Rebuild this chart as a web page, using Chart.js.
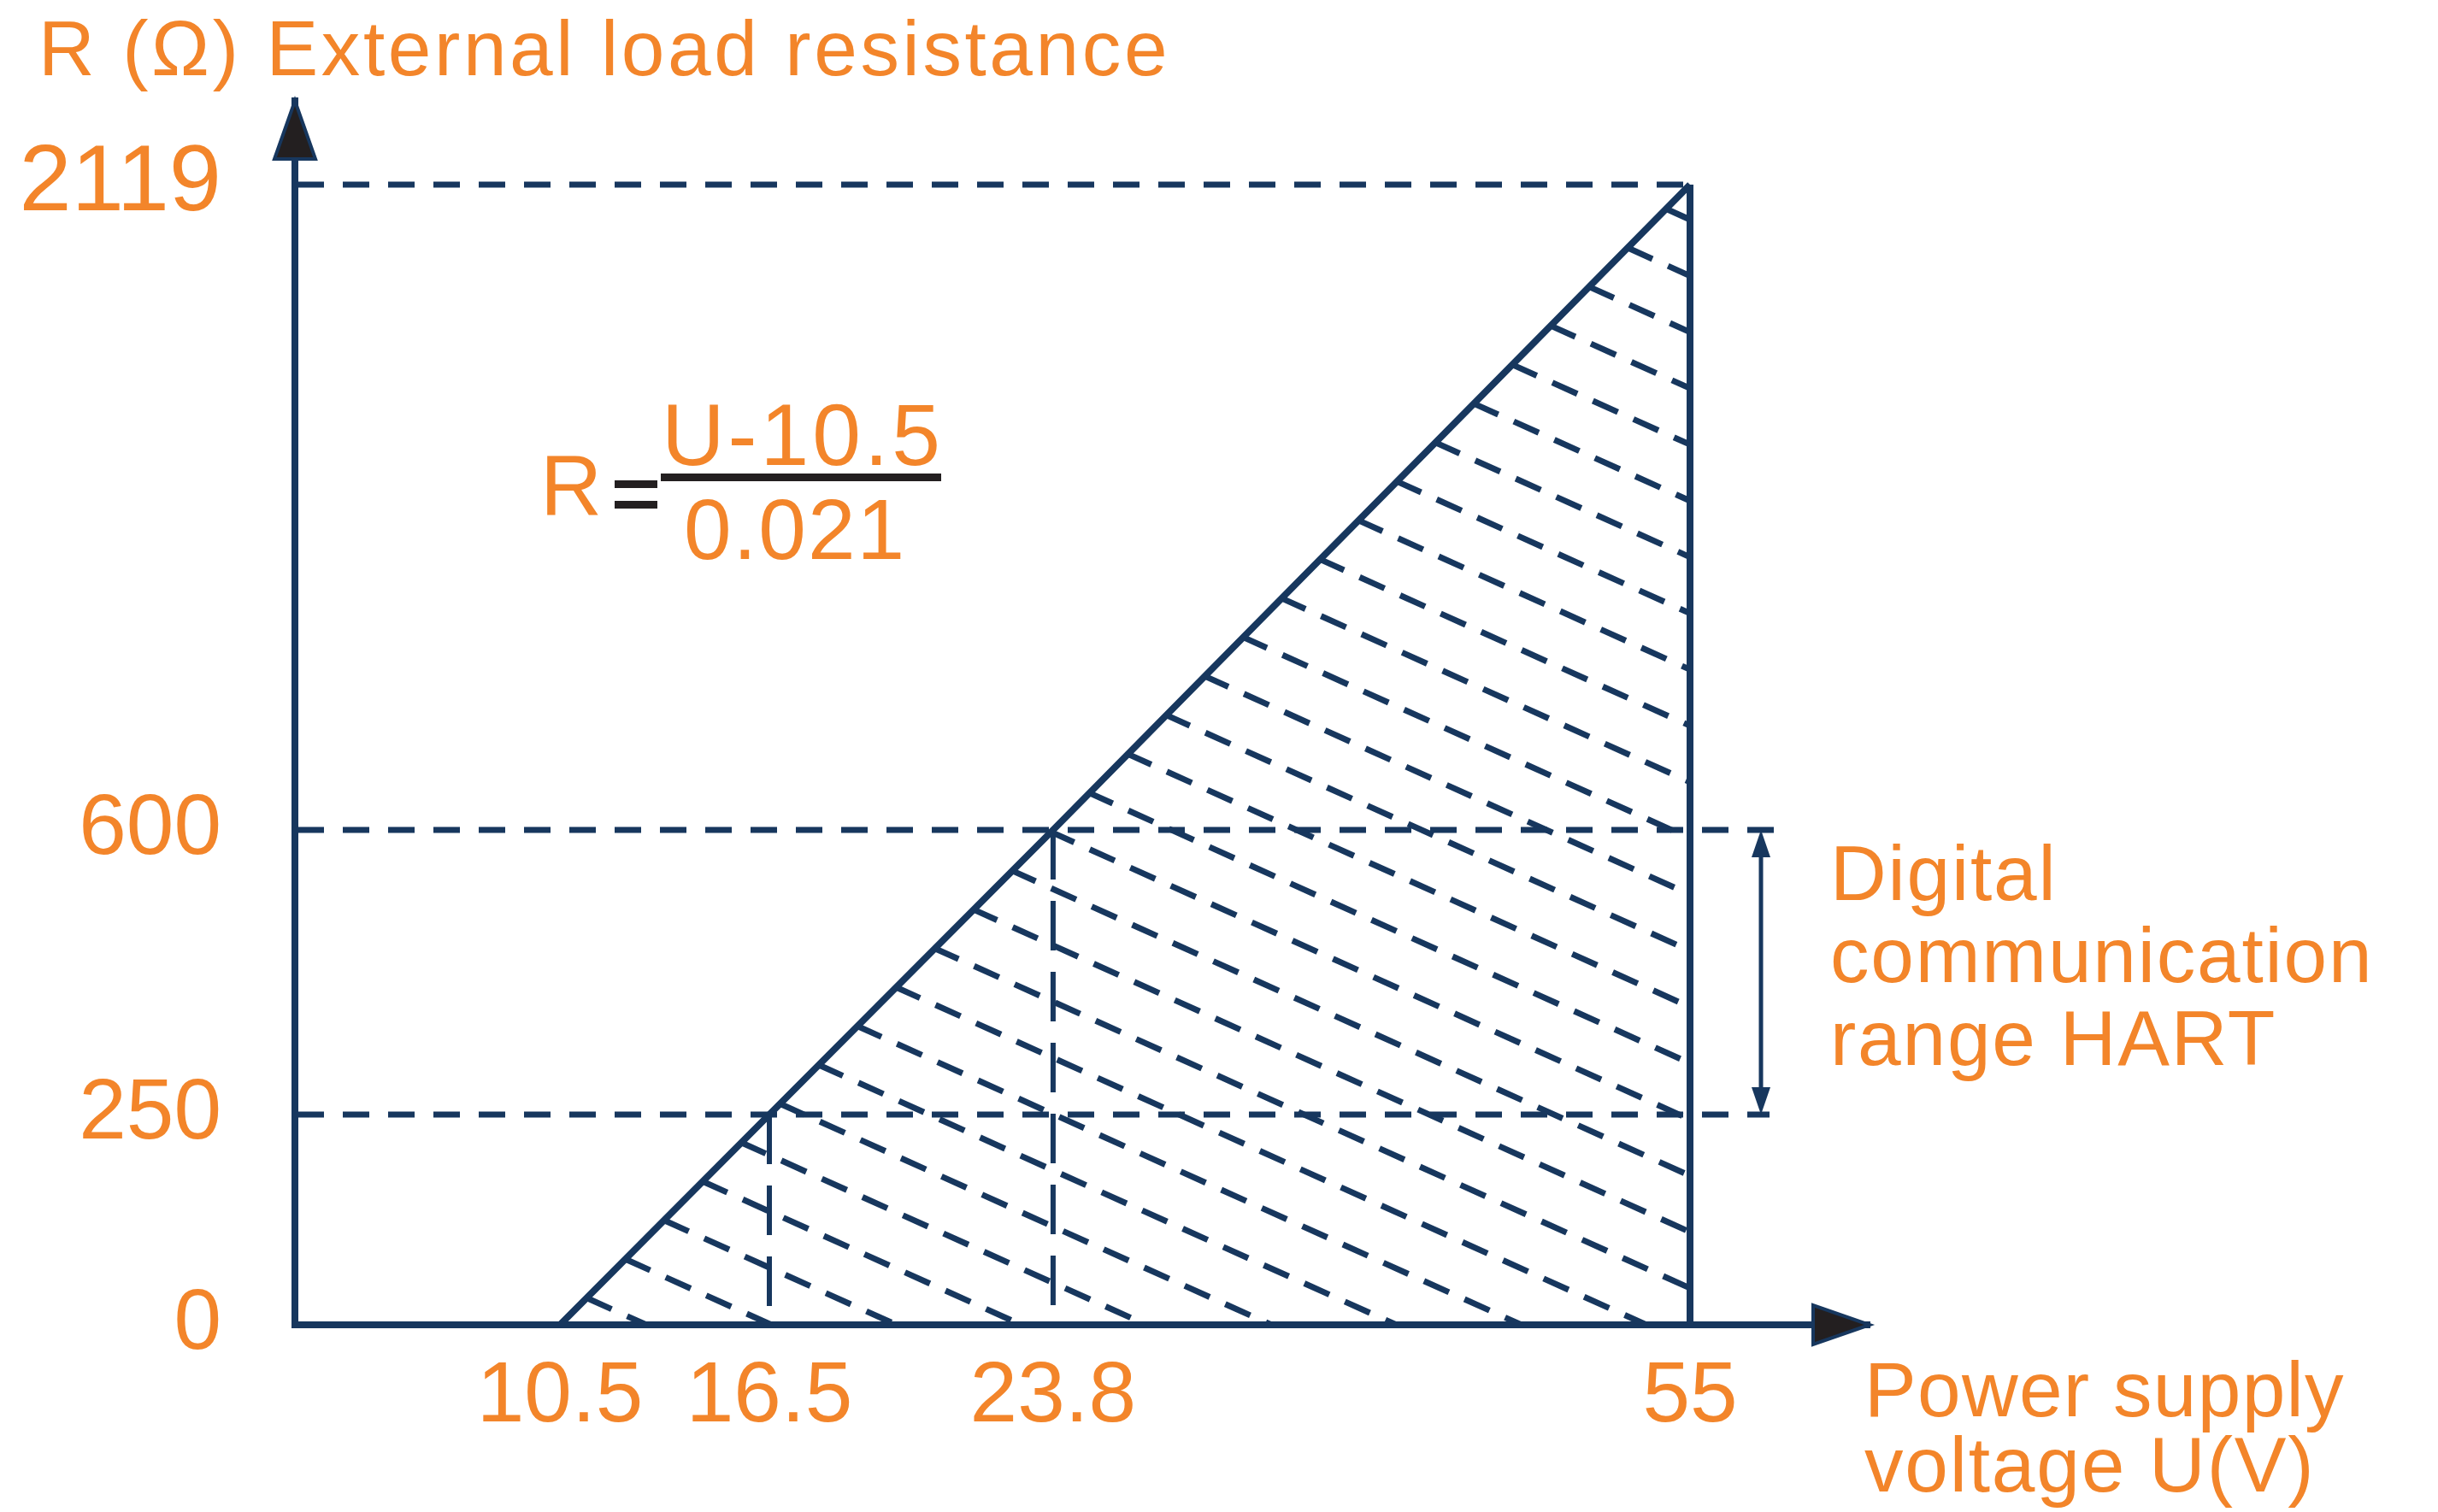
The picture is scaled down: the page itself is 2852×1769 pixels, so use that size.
<!DOCTYPE html>
<html>
<head>
<meta charset="utf-8">
<title>External load resistance vs power supply voltage</title>
<script src="https://cdn.jsdelivr.net/npm/chart.js@4.4.1/dist/chart.umd.min.js"></script>
<style>
  html, body { margin: 0; padding: 0; background: #fff; }
  #chart { display: block; }
</style>
</head>
<body>
<canvas id="chart" width="2852" height="1769"></canvas>
<script>
// values
const voltageTicks = [10.5, 16.5, 23.8, 55];
const voltageLabels = ["10.5", "16.5", "23.8", "55"];
const resistanceTicks = [0, 250, 600, 2119];
const resistanceLabels = ["0", "250", "600", "2119"];
const loadLineU = [10.5, 16.5, 23.8, 55];
const loadLineR = [0, 250, 600, 2119];
const hartRange = [250, 600];
const hartVoltages = [16.5, 23.8];
const maxVoltage = 55;
const maxResistance = 2119;

const NAVY = "#17375e";
const ORANGE = "#f3852a";
const INK = "#231f20";
const FONT = '"Liberation Sans", Arial, sans-serif';

// the diagram is not drawn to scale, so each axis is stretched piece by piece
// between its ticks (fraction of the axis length where each tick sits)
const axisStops = {
  x: { values: voltageTicks, at: [0.1683, 0.3013, 0.4815, 0.886] },
  y: { values: resistanceTicks, at: [0, 0.1718, 0.4043, 0.9316] }
};

function toDecimal(stops, v) {
  const vs = stops.values, at = stops.at;
  let i = 0;
  while (i < vs.length - 2 && v > vs[i + 1]) i++;
  return at[i] + (v - vs[i]) * (at[i + 1] - at[i]) / (vs[i + 1] - vs[i]);
}

function fromDecimal(stops, d) {
  const vs = stops.values, at = stops.at;
  let i = 0;
  while (i < at.length - 2 && d > at[i + 1]) i++;
  return vs[i] + (d - at[i]) * (vs[i + 1] - vs[i]) / (at[i + 1] - at[i]);
}

class PiecewiseScale extends Chart.LinearScale {
  getPixelForValue(value) {
    if (value === null || value === undefined || isNaN(value)) return NaN;
    return this.getPixelForDecimal(toDecimal(axisStops[this.axis], value));
  }
  getValueForPixel(pixel) {
    return fromDecimal(axisStops[this.axis], this.getDecimalForPixel(pixel));
  }
}
PiecewiseScale.id = "piecewise";
PiecewiseScale.defaults = {};
Chart.register(PiecewiseScale);

function arrowHead(ctx, tipX, tipY, dx, dy, len, half, fill, stroke) {
  const bx = tipX - dx * len, by = tipY - dy * len;
  ctx.beginPath();
  ctx.moveTo(tipX, tipY);
  ctx.lineTo(bx - dy * half, by + dx * half);
  ctx.lineTo(bx + dy * half, by - dx * half);
  ctx.closePath();
  ctx.fillStyle = fill;
  ctx.fill();
  if (stroke) {
    ctx.strokeStyle = stroke;
    ctx.lineWidth = 4;
    ctx.lineJoin = "miter";
    ctx.stroke();
  }
}

function text(ctx, str, x, y, size, opts = {}) {
  ctx.font = `${size}px ${FONT}`;
  ctx.fillStyle = opts.color || ORANGE;
  ctx.textAlign = opts.align || "left";
  ctx.textBaseline = "alphabetic";
  ctx.letterSpacing = (opts.spacing || 0) + "px";
  ctx.fillText(str, x, y);
  ctx.letterSpacing = "0px";
}

// dashed hatching of the allowed working area
const hatchPlugin = {
  id: "hatch",
  beforeDatasetsDraw(chart) {
    const { ctx, scales: { x, y } } = chart;
    const pts = loadLineU.map((u, i) => [x.getPixelForValue(u), y.getPixelForValue(loadLineR[i])]);
    const xr = x.getPixelForValue(maxVoltage);
    const yb = y.getPixelForValue(0);
    ctx.save();
    ctx.beginPath();
    pts.forEach(([px, py], i) => (i ? ctx.lineTo(px, py) : ctx.moveTo(px, py)));
    ctx.lineTo(xr, yb);
    ctx.closePath();
    ctx.clip();

    ctx.strokeStyle = NAVY;
    ctx.lineWidth = 7;
    ctx.setLineDash([32, 20]);
    const [x0, y0] = pts[0];
    const [x1, y1] = pts[pts.length - 1];
    const k = 0.45, step = 65.8;
    const cTop = y1 - k * x1, cBottom = y0 - k * x0;
    for (let c = cTop + 41; c < cBottom; c += step) {
      const t = (c - cBottom) / ((y1 - y0) - k * (x1 - x0));
      const sx = x0 + t * (x1 - x0), sy = y0 + t * (y1 - y0);
      let ex = xr, ey = k * xr + c;
      if (ey > yb) { ey = yb; ex = (yb - c) / k; }
      ctx.beginPath();
      ctx.moveTo(sx, sy);
      ctx.lineTo(ex, ey);
      ctx.stroke();
    }
    ctx.restore();
  }
};

// horizontal dashed guides at the marked resistances
const guidePlugin = {
  id: "guides",
  beforeDatasetsDraw(chart) {
    const { ctx, chartArea, scales: { x, y } } = chart;
    const xr = x.getPixelForValue(maxVoltage);
    ctx.save();
    ctx.strokeStyle = NAVY;
    ctx.lineWidth = 7;
    ctx.setLineDash([31, 22]);
    [[maxResistance, xr], [hartRange[1], xr + 111], [hartRange[0], xr + 93]].forEach(([r, end]) => {
      const py = y.getPixelForValue(r);
      ctx.beginPath();
      ctx.moveTo(chartArea.left + 3, py);
      ctx.lineTo(end, py);
      ctx.stroke();
    });
    ctx.restore();
  }
};

const notesPlugin = {
  id: "notes",
  afterDraw(chart) {
    const { ctx, chartArea, scales: { x, y } } = chart;
    const yb = y.getPixelForValue(0);
    ctx.save();

    // axis arrows
    arrowHead(ctx, chartArea.left, chartArea.top, 0, -1, 68, 24, INK, NAVY);
    arrowHead(ctx, chartArea.right, yb, 1, 0, 66, 23, INK, NAVY);

    // HART range double arrow
    const ax = x.getPixelForValue(maxVoltage) + 83;
    const yTop = y.getPixelForValue(hartRange[1]);
    const yBot = y.getPixelForValue(hartRange[0]);
    ctx.strokeStyle = NAVY;
    ctx.lineWidth = 5;
    ctx.beginPath();
    ctx.moveTo(ax, yTop + 20);
    ctx.lineTo(ax, yBot - 20);
    ctx.stroke();
    arrowHead(ctx, ax, yTop, 0, -1, 32, 11, NAVY);
    arrowHead(ctx, ax, yBot, 0, 1, 32, 11, NAVY);

    // axis titles
    text(ctx, "R (Ω) External load resistance", 45, 88, 91, { spacing: 3.6 });
    text(ctx, "Power supply", 2181, 1657, 91, { spacing: 1.3 });
    text(ctx, "voltage U(V)", 2181, 1745, 91, { spacing: 1.8 });

    // HART note
    text(ctx, "Digital", 2141, 1053, 91, { spacing: 1.8 });
    text(ctx, "communication", 2141, 1149, 91, { spacing: 1.8 });
    text(ctx, "range HART", 2141, 1246, 91, { spacing: 1.8 });

    // formula
    text(ctx, "R", 632, 603, 100);
    ctx.fillStyle = INK;
    ctx.fillRect(719, 562, 50, 9);
    ctx.fillRect(719, 586, 50, 9);
    ctx.fillRect(773, 554, 328, 9);
    text(ctx, "U-10.5", 939, 544, 102, { align: "center", spacing: 4 });
    text(ctx, "0.021", 930, 654, 100, { align: "center", spacing: 2 });

    ctx.restore();
  }
};

new Chart(document.getElementById("chart").getContext("2d"), {
  type: "scatter",
  data: {
    datasets: [
      {
        label: "Load line",
        data: loadLineU.map((u, i) => ({ x: u, y: loadLineR[i] })),
        borderColor: NAVY,
        borderWidth: 8,
        showLine: true,
        pointRadius: 0
      },
      {
        label: "Max voltage",
        data: [{ x: maxVoltage, y: 0 }, { x: maxVoltage, y: maxResistance }],
        borderColor: NAVY,
        borderWidth: 8,
        showLine: true,
        pointRadius: 0
      },
      ...hartVoltages.map((u, i) => ({
        label: "HART " + u,
        data: [{ x: u, y: hartRange[i] }, { x: u, y: 0 }],
        borderColor: NAVY,
        borderWidth: 6,
        borderDash: [58, 25],
        showLine: true,
        pointRadius: 0
      }))
    ]
  },
  options: {
    responsive: false,
    animation: false,
    devicePixelRatio: 1,
    events: [],
    layout: { padding: { top: 118, right: 665, left: 0, bottom: 0 } },
    plugins: { legend: { display: false }, tooltip: { enabled: false } },
    scales: {
      x: {
        type: "piecewise",
        min: 0,
        max: 60,
        afterFit: s => { s.height = 219; },
        afterBuildTicks: s => { s.ticks = voltageTicks.map(v => ({ value: v })); },
        grid: { display: false, drawTicks: true, tickLength: 25 },
        border: { display: true, color: NAVY, width: 8 },
        ticks: {
          autoSkip: false,
          maxRotation: 0,
          padding: 0,
          color: ORANGE,
          font: { family: FONT, size: 100 },
          callback: (v, i) => voltageLabels[i]
        }
      },
      y: {
        type: "piecewise",
        min: 0,
        max: 2300,
        afterFit: s => { s.width = 345; },
        afterBuildTicks: s => { s.ticks = resistanceTicks.map(v => ({ value: v })); },
        grid: { display: false, drawTicks: true, tickLength: 86 },
        border: { display: true, color: NAVY, width: 8 },
        ticks: {
          autoSkip: false,
          padding: 0,
          color: ORANGE,
          font: c => ({ family: FONT, size: c.tick && c.tick.value === maxResistance ? 110 : 100 }),
          callback: (v, i) => resistanceLabels[i]
        }
      }
    }
  },
  plugins: [hatchPlugin, guidePlugin, notesPlugin]
});
</script>
</body>
</html>
